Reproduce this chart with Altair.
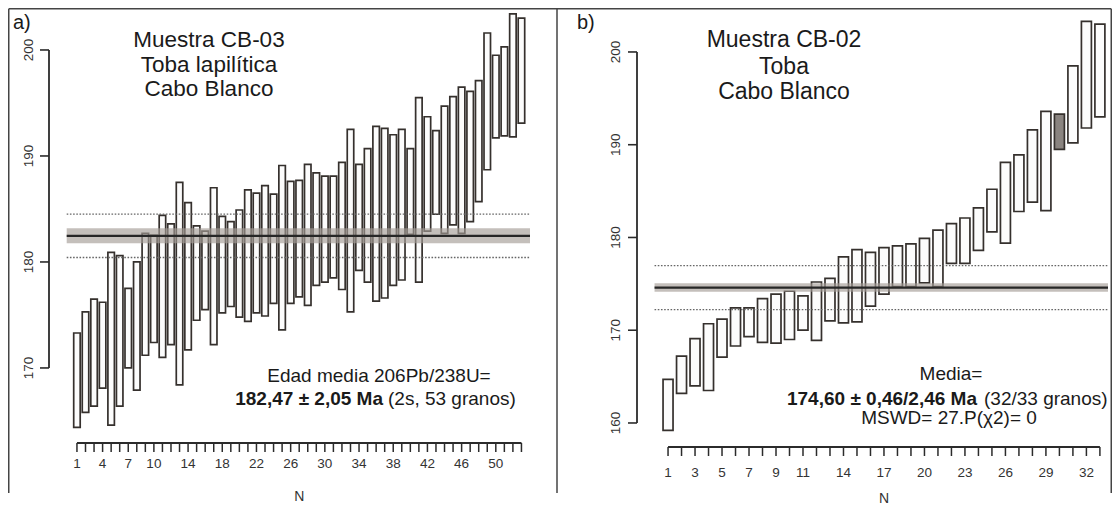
import altair as alt
import pandas as pd

FONT = "Liberation Sans"
INK = "#2b2b2b"

# ---------------- panel a data (CB-03, 53 grains) ----------------
a_n = list(range(1, 54))
a_top = [173.3, 175.3, 176.5, 176.2, 180.9, 180.6, 177.5, 180.0, 182.7, 182.5,
         184.4, 183.6, 187.5, 185.6, 183.4, 182.9, 187.0, 184.3, 183.8, 184.9,
         186.8, 186.5, 187.2, 186.4, 189.1, 187.6, 187.7, 189.2, 188.4, 188.1,
         188.1, 189.4, 192.5, 189.2, 190.7, 192.8, 192.6, 192.0, 192.5, 190.7,
         195.5, 193.7, 192.4, 194.7, 195.6, 196.5, 196.1, 197.1, 201.6, 199.5,
         200.3, 203.4, 203.0]
a_bot = [164.4, 165.8, 166.4, 168.1, 164.6, 166.4, 170.0, 167.9, 171.2, 172.4,
         171.0, 172.2, 168.4, 171.7, 174.5, 175.5, 172.2, 175.2, 175.8, 174.8,
         174.4, 175.2, 174.9, 176.1, 173.6, 176.1, 176.7, 175.9, 177.8, 178.1,
         178.5, 177.4, 175.3, 179.2, 178.1, 176.3, 176.6, 177.8, 178.3, 182.6,
         178.1, 182.9, 184.5, 182.7, 183.5, 182.7, 183.8, 185.7, 188.7, 191.7,
         191.9, 191.8, 193.1]
a_excluded = []
a_xlabels = [1, 4, 7, 10, 14, 18, 22, 26, 30, 34, 38, 42, 46, 50]
a_yticks = [170, 180, 190, 200]
a_mean, a_band, a_err = 182.47, 0.71, 2.05
a_title = ["Muestra CB-03", "Toba lapilítica", "Cabo Blanco"]
a_note1 = "Edad media 206Pb/238U="
a_note2_bold = "182,47 ± 2,05 Ma"
a_note2 = "(2s, 53 granos)"

# ---------------- panel b data (CB-02, 33 grains) ----------------
b_n = list(range(1, 34))
b_top = [164.7, 167.2, 169.1, 170.7, 171.2, 172.4, 172.4, 173.4, 173.9, 174.2,
         173.7, 175.2, 175.6, 177.9, 178.7, 178.4, 178.9, 179.1, 179.3, 179.9,
         180.8, 181.5, 182.1, 183.2, 185.2, 188.1, 188.9, 191.6, 193.6, 193.3,
         198.5, 203.3, 203.0]
b_bot = [159.2, 163.2, 164.0, 163.5, 167.1, 168.3, 169.3, 168.7, 168.6, 169.0,
         170.0, 168.9, 171.0, 170.8, 170.9, 172.6, 173.9, 174.7, 174.7, 175.1,
         174.7, 177.2, 177.2, 178.6, 180.6, 179.4, 182.8, 183.8, 182.9, 189.5,
         190.2, 191.8, 193.0]
b_excluded = [30]
b_xlabels = [1, 3, 5, 7, 9, 11, 14, 17, 20, 23, 26, 29, 32]
b_yticks = [160, 170, 180, 190, 200]
b_mean, b_band, b_err = 174.60, 0.46, 2.37
b_title = ["Muestra CB-02", "Toba", "Cabo Blanco"]
b_note1 = "Media="
b_note2_bold = "174,60 ± 0,46/2,46 Ma"
b_note2 = "(32/33 granos)"
b_note3 = "MSWD= 27.P(χ2)= 0"
x_title = "N"


def label(text, x, y, size, weight="normal", align="center"):
    return alt.Chart(pd.DataFrame({"t": [text]})).mark_text(
        align=align, baseline="alphabetic", fontSize=size, fontWeight=weight,
        font=FONT, color="#1a1a1a"
    ).encode(x=alt.value(x), y=alt.value(y), text="t:N")


def vrule(x, y1, y2, color="#444", width=1.5):
    return alt.Chart(pd.DataFrame({"k": [0]})).mark_rule(
        color=color, strokeWidth=width).encode(
        x=alt.value(x), y=alt.value(y1), y2=alt.value(y2))


def hrule(x1, x2, y, color="#444", width=1.5):
    return alt.Chart(pd.DataFrame({"k": [0]})).mark_rule(
        color=color, strokeWidth=width).encode(
        x=alt.value(x1), x2=alt.value(x2), y=alt.value(y))


def panel(n, top, bot, excluded, xlabels, yticks, mean, band, err,
          xdom, ydom, W, H, half, xlab_y, ylab_x, line_x, title_y):
    df = pd.DataFrame({"n": n, "top": top, "bot": bot})
    df["x1"] = df["n"] - half
    df["x2"] = df["n"] + half
    df["excl"] = df["n"].isin(excluded)
    xs = alt.Scale(domain=xdom, nice=False, zero=False)
    ys = alt.Scale(domain=ydom, nice=False, zero=False)
    ppu = W / (xdom[1] - xdom[0])

    def X(f):
        return alt.X(f, scale=xs, axis=None)

    def Y(f):
        return alt.Y(f, scale=ys, axis=None)

    bars = alt.Chart(df).mark_rect(stroke="#35302d", strokeWidth=1.7).encode(
        x=X("x1:Q"), x2="x2", y=Y("bot:Q"), y2="top",
        fill=alt.condition("datum.excl", alt.value("#8a8480"), alt.value("#fcfcfc")),
    )
    bdf = pd.DataFrame({"x1": [line_x[0]], "x2": [line_x[1]],
                        "lo": [mean - band], "hi": [mean + band]})
    band_l = alt.Chart(bdf).mark_rect(fill="#a59d97", opacity=0.65).encode(
        x=X("x1:Q"), x2="x2", y=Y("lo:Q"), y2="hi")
    ddf = pd.DataFrame({"x1": [line_x[0]] * 2, "x2": [line_x[1]] * 2,
                        "y": [mean - err, mean + err]})
    dots = alt.Chart(ddf).mark_rule(color="#666", strokeWidth=1.3,
                                    strokeDash=[1.6, 1.6]).encode(
        x=X("x1:Q"), x2="x2", y=Y("y:Q"))
    mdf = pd.DataFrame({"x1": [line_x[0]], "x2": [line_x[1]], "y": [mean]})
    mline = alt.Chart(mdf).mark_rule(color="#262626", strokeWidth=2.2).encode(
        x=X("x1:Q"), x2="x2", y=Y("y:Q"))

    tdf = pd.DataFrame({"v": yticks})
    ytl = alt.Chart(tdf).mark_text(
        angle=270, align="center", baseline="alphabetic", fontSize=13.5,
        font=FONT, color="#333").encode(
        x=alt.value(ylab_x), y=Y("v:Q"), text=alt.Text("v:Q", format="d"))

    # R-style x axis: line from first to last tick, a tick per grain
    xl = alt.Chart(pd.DataFrame({"a": [n[0]], "b": [n[-1]]})).mark_rule(
        color=INK, strokeWidth=1.8).encode(
        x=X("a:Q"), x2="b", y=alt.value(H))
    xt = alt.Chart(pd.DataFrame({"n": n})).mark_rule(
        color=INK, strokeWidth=1.5).encode(
        x=X("n:Q"), y=alt.value(H), y2=alt.value(H + 9))
    xtl = alt.Chart(pd.DataFrame({"n": xlabels})).mark_text(
        align="center", baseline="alphabetic", fontSize=13.5, font=FONT,
        color="#333").encode(
        x=X("n:Q"), y=alt.value(H + xlab_y), text=alt.Text("n:Q", format="d"))
    mid = (n[0] + n[-1]) / 2.0
    xtt = alt.Chart(pd.DataFrame({"n": [mid], "t": [x_title]})).mark_text(
        align="center", baseline="alphabetic", fontSize=14, font=FONT,
        color="#333").encode(
        x=X("n:Q"), y=alt.value(H + title_y), text="t:N")

    # R-style y axis line (first to last tick) and outward ticks, drawn as
    # thin filled rectangles through the panel's own scales
    x0 = xdom[0]
    ldf = pd.DataFrame({"xa": [x0 - 0.9 / ppu], "xb": [x0 + 0.9 / ppu],
                        "a": [yticks[0]], "b": [yticks[-1]]})
    yl = alt.Chart(ldf).mark_rect(fill=INK, stroke=None).encode(
        x=X("xa:Q"), x2="xb", y=Y("a:Q"), y2="b")
    kdf = pd.DataFrame({"v": yticks,
                        "xa": [x0 - 9.0 / ppu] * len(yticks),
                        "xb": [x0] * len(yticks)})
    yt = alt.Chart(kdf).mark_tick(color=INK, thickness=1.6, size=1).encode(
        x=X("xa:Q"), y=Y("v:Q"))
    ytr = alt.Chart(kdf).mark_rule(color=INK, strokeWidth=1.6).encode(
        x=X("xa:Q"), x2="xb", y=Y("v:Q"))
    return [bars, band_l, dots, mline, ytl, xl, xt, xtl, xtt], [yl, ytr]


WA, HA = 481, 435
pa_main, pa_axis = panel(a_n, a_top, a_bot, a_excluded, a_xlabels, a_yticks,
                         a_mean, a_band, a_err, [-2.27, 54.0], [162.92, 203.96],
                         WA, HA, 0.38, 25, -16, [-0.2, 54.0], 58.4)
pa_layers = pa_main + [
    label("a)", -36, 21, 20, align="left"),
    label(a_title[0], 160, 39, 22.5),
    label(a_title[1], 160, 64, 22.5),
    label(a_title[2], 160, 88, 22.5),
    label(a_note1, 330, 374, 19),
    label(a_note2_bold, 334, 397, 19, weight="bold", align="right"),
    label(a_note2, 339, 397, 19, align="left"),
    vrule(-40.25, 0.75, 485),
    hrule(-40.25, 1062.25, 0.75),
    vrule(508, 0.75, 485),
    vrule(1062.25, 0.75, 485),
] + pa_axis
pa = alt.layer(*pa_layers).properties(width=WA, height=HA)

WB, HB = 471, 439
pb_main, pb_axis = panel(b_n, b_top, b_bot, b_excluded, b_xlabels, b_yticks,
                         b_mean, b_band, b_err, [-1.3, 33.6], [157.41, 204.74],
                         WB, HB, 0.37, 30, -17, [0.0, 33.6], 56.3)
pb_layers = pb_main + [
    label("b)", -60, 21, 20, align="left"),
    label(b_title[0], 147, 39, 23),
    label(b_title[1], 147, 66, 23),
    label(b_title[2], 147, 91, 23),
    label(b_note1, 314, 372, 19),
    label(b_note2_bold, 340, 397, 19, weight="bold", align="right"),
    label(b_note2, 347, 397, 19, align="left"),
    label(b_note3, 312, 416, 19),
] + pb_axis
pb = alt.layer(*pb_layers).properties(width=WB, height=HB)

chart = alt.hconcat(pa, pb, spacing=107, bounds="flush").properties(
    padding=0, background="white"
).configure_view(stroke=None)

chart.save("out.html", embed_options={"renderer": "svg", "actions": False})
